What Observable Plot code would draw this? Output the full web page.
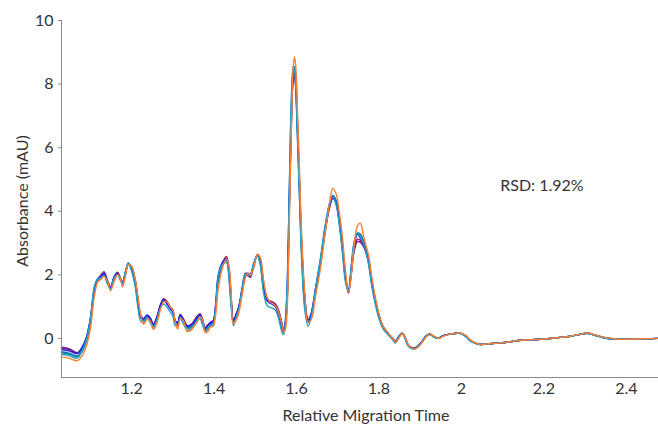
<!DOCTYPE html>
<html>
<head>
<meta charset="utf-8">
<script src="https://cdn.jsdelivr.net/npm/d3@7"></script>
<script src="https://cdn.jsdelivr.net/npm/@observablehq/plot@0.6"></script>
<style>
  html, body { margin: 0; padding: 0; background: #fff; }
  #chart { width: 658px; height: 424px; }
</style>
</head>
<body>
<div id="chart"></div>
<script>
// Relative migration time grid shared by all replicate runs
const time = [
  1.030,1.050,1.068,1.080,1.090,1.100,1.110,1.118,1.125,1.133,
  1.141,1.149,1.158,1.166,1.172,1.178,1.185,1.192,1.200,1.209,
  1.215,1.222,1.229,1.238,1.245,1.253,1.262,1.270,1.278,1.286,
  1.294,1.300,1.306,1.312,1.318,1.326,1.335,1.343,1.350,1.358,
  1.366,1.372,1.379,1.385,1.391,1.398,1.404,1.410,1.420,1.430,
  1.436,1.441,1.447,1.453,1.460,1.468,1.476,1.482,1.488,1.496,
  1.505,1.512,1.520,1.528,1.535,1.542,1.549,1.556,1.566,1.569,
  1.574,1.578,1.583,1.588,1.592,1.595,1.598,1.602,1.607,1.612,
  1.620,1.628,1.636,1.646,1.658,1.670,1.680,1.688,1.696,1.704,
  1.712,1.719,1.726,1.733,1.740,1.748,1.755,1.762,1.768,1.775,
  1.783,1.791,1.800,1.810,1.823,1.833,1.840,1.848,1.857,1.864,
  1.871,1.880,1.888,1.897,1.905,1.915,1.924,1.933,1.944,1.955,
  1.966,1.980,1.997,2.010,2.021,2.034,2.046,2.065,2.087,2.110,
  2.126,2.145,2.167,2.200,2.230,2.260,2.285,2.305,2.325,2.344,
  2.365,2.385,2.420,2.450,2.478
];

// Absorbance (mAU) of each replicate run
const runSteelBlue = [
  -0.42,-0.47,-0.55,-0.35,-0.05,0.55,1.55,1.85,1.92,2.02,
  1.80,1.57,1.90,2.04,1.90,1.72,2.05,2.35,2.20,1.75,
  1.20,0.66,0.58,0.70,0.60,0.40,0.65,1.00,1.20,1.10,
  0.95,0.85,0.52,0.45,0.72,0.55,0.35,0.38,0.45,0.60,
  0.72,0.55,0.28,0.38,0.45,0.50,1.00,1.86,2.30,2.48,
  2.10,1.30,0.55,0.70,0.95,1.50,2.00,2.05,2.02,2.30,
  2.62,2.45,1.65,1.22,1.12,1.08,1.00,0.80,0.30,0.18,
  0.60,1.60,4.60,7.30,8.45,8.55,8.20,6.80,4.90,3.00,
  1.20,0.50,0.75,1.50,2.40,3.50,4.20,4.48,4.30,3.70,
  2.80,1.90,1.50,2.20,2.95,3.30,3.20,3.05,2.82,2.45,
  1.75,1.20,0.70,0.35,0.12,-0.02,-0.10,0.05,0.16,0.00,
  -0.22,-0.30,-0.31,-0.22,-0.10,0.08,0.13,0.05,0.00,0.08,
  0.12,0.15,0.16,0.08,-0.06,-0.15,-0.19,-0.17,-0.15,-0.12,
  -0.09,-0.06,-0.04,-0.02,0.02,0.06,0.12,0.16,0.10,0.03,
  -0.01,-0.03,-0.02,-0.01,0.00
];
const runOrange = [
  -0.58,-0.63,-0.70,-0.55,-0.25,0.30,1.35,1.78,1.85,1.95,
  1.82,1.50,1.80,2.00,1.92,1.62,1.95,2.32,2.28,1.85,
  1.35,0.75,0.45,0.60,0.55,0.28,0.50,0.90,1.15,1.15,
  0.98,0.90,0.50,0.30,0.62,0.55,0.22,0.25,0.35,0.50,
  0.68,0.60,0.18,0.22,0.35,0.38,0.75,1.55,2.20,2.50,
  2.30,1.55,0.45,0.55,0.80,1.35,1.90,2.05,2.00,2.20,
  2.65,2.55,1.85,1.30,1.15,1.10,1.02,0.85,0.35,0.18,
  0.35,1.10,3.90,6.90,8.55,8.85,8.60,7.30,5.40,3.40,
  1.45,0.50,0.60,1.30,2.20,3.35,4.25,4.72,4.55,3.95,
  3.10,2.10,1.45,2.00,2.95,3.55,3.62,3.25,2.95,2.60,
  1.90,1.30,0.78,0.38,0.15,0.00,-0.12,0.00,0.16,0.04,
  -0.20,-0.30,-0.33,-0.25,-0.12,0.06,0.14,0.07,0.00,0.06,
  0.12,0.15,0.17,0.10,-0.04,-0.14,-0.19,-0.17,-0.15,-0.12,
  -0.09,-0.06,-0.04,-0.02,0.02,0.06,0.12,0.17,0.11,0.04,
  0.00,-0.03,-0.02,-0.01,0.00
];
const runCyan = [
  -0.50,-0.55,-0.62,-0.40,-0.05,0.62,1.65,1.88,1.90,1.98,
  1.72,1.55,1.92,2.00,1.85,1.72,2.10,2.38,2.12,1.60,
  1.00,0.55,0.50,0.62,0.50,0.32,0.62,0.95,1.08,0.98,
  0.82,0.70,0.40,0.40,0.62,0.45,0.25,0.30,0.38,0.52,
  0.62,0.42,0.20,0.30,0.38,0.45,1.05,1.95,2.32,2.38,
  1.90,1.05,0.40,0.65,0.92,1.55,2.02,2.00,1.98,2.35,
  2.60,2.30,1.45,1.05,0.98,0.95,0.88,0.65,0.15,0.12,
  0.70,1.90,5.00,7.80,8.55,8.45,7.90,6.40,4.50,2.60,
  0.90,0.38,0.70,1.55,2.50,3.60,4.25,4.45,4.20,3.55,
  2.60,1.75,1.48,2.30,3.05,3.32,3.20,3.00,2.75,2.30,
  1.60,1.08,0.62,0.30,0.10,-0.04,-0.15,0.05,0.15,-0.03,
  -0.25,-0.33,-0.32,-0.22,-0.10,0.09,0.12,0.04,0.00,0.08,
  0.12,0.15,0.15,0.06,-0.08,-0.16,-0.19,-0.17,-0.15,-0.12,
  -0.09,-0.06,-0.04,-0.02,0.02,0.06,0.12,0.15,0.09,0.02,
  -0.02,-0.03,-0.02,-0.01,0.00
];
const runTeal = [
  -0.45,-0.50,-0.58,-0.42,-0.12,0.45,1.45,1.82,1.90,2.00,
  1.82,1.55,1.85,2.05,1.93,1.70,2.00,2.35,2.25,1.80,
  1.28,0.70,0.55,0.68,0.60,0.38,0.60,0.98,1.18,1.12,
  0.96,0.86,0.52,0.40,0.70,0.56,0.32,0.35,0.42,0.58,
  0.72,0.58,0.25,0.32,0.42,0.47,0.90,1.75,2.28,2.48,
  2.20,1.42,0.52,0.65,0.90,1.45,1.95,2.05,2.02,2.25,
  2.62,2.50,1.75,1.25,1.12,1.08,1.00,0.82,0.32,0.18,
  0.50,1.40,4.30,7.10,8.35,8.55,8.35,7.00,5.10,3.20,
  1.30,0.52,0.70,1.42,2.32,3.45,4.20,4.50,4.35,3.80,
  2.92,1.98,1.50,2.12,2.92,3.32,3.28,3.10,2.86,2.52,
  1.82,1.25,0.74,0.37,0.14,0.00,-0.11,0.03,0.16,0.02,
  -0.21,-0.30,-0.32,-0.23,-0.11,0.07,0.13,0.06,0.00,0.07,
  0.12,0.15,0.16,0.09,-0.05,-0.15,-0.19,-0.17,-0.15,-0.12,
  -0.09,-0.06,-0.04,-0.02,0.02,0.06,0.12,0.16,0.10,0.03,
  -0.01,-0.03,-0.02,-0.01,0.00
];
const runBlue = [
  -0.35,-0.40,-0.48,-0.28,0.02,0.62,1.62,1.88,1.95,2.05,
  1.78,1.60,1.95,2.05,1.88,1.75,2.10,2.36,2.15,1.70,
  1.12,0.66,0.62,0.74,0.62,0.45,0.70,1.05,1.22,1.08,
  0.92,0.82,0.55,0.50,0.74,0.56,0.38,0.42,0.50,0.65,
  0.74,0.52,0.32,0.42,0.48,0.55,1.10,1.98,2.38,2.50,
  2.00,1.20,0.58,0.75,1.00,1.58,2.05,2.02,2.00,2.35,
  2.62,2.40,1.55,1.20,1.12,1.08,1.00,0.78,0.25,0.18,
  0.75,1.90,4.90,7.50,8.30,8.35,7.95,6.50,4.60,2.80,
  1.05,0.50,0.80,1.58,2.48,3.55,4.20,4.45,4.25,3.60,
  2.70,1.85,1.52,2.28,3.00,3.28,3.15,3.00,2.78,2.40,
  1.68,1.15,0.68,0.34,0.12,-0.02,-0.11,0.06,0.16,-0.01,
  -0.23,-0.30,-0.30,-0.21,-0.09,0.09,0.13,0.05,0.00,0.09,
  0.12,0.15,0.16,0.07,-0.07,-0.15,-0.19,-0.17,-0.15,-0.12,
  -0.09,-0.06,-0.04,-0.02,0.02,0.06,0.12,0.16,0.10,0.03,
  -0.01,-0.03,-0.02,-0.01,0.00
];
const runPurple = [
  -0.28,-0.33,-0.45,-0.28,0.00,0.58,1.55,1.85,1.95,2.05,
  1.82,1.62,1.95,2.06,1.92,1.78,2.06,2.33,2.22,1.80,
  1.25,0.72,0.62,0.72,0.65,0.45,0.70,1.05,1.24,1.14,
  0.98,0.88,0.55,0.50,0.75,0.60,0.40,0.42,0.50,0.66,
  0.76,0.58,0.34,0.42,0.50,0.55,1.00,1.85,2.35,2.52,
  2.15,1.35,0.55,0.72,0.98,1.50,1.95,1.98,1.92,2.28,
  2.62,2.45,1.72,1.28,1.18,1.15,1.08,0.90,0.40,0.20,
  0.55,1.50,4.40,7.00,8.10,8.25,7.95,6.70,4.95,3.10,
  1.30,0.60,0.78,1.50,2.35,3.40,4.10,4.40,4.25,3.70,
  2.85,1.95,1.42,2.05,2.75,3.05,3.02,2.90,2.72,2.40,
  1.75,1.22,0.72,0.38,0.15,0.01,-0.09,0.06,0.16,0.01,
  -0.21,-0.29,-0.30,-0.21,-0.09,0.08,0.13,0.06,0.01,0.08,
  0.12,0.15,0.16,0.08,-0.06,-0.15,-0.19,-0.17,-0.15,-0.12,
  -0.09,-0.06,-0.04,-0.02,0.02,0.06,0.12,0.16,0.10,0.03,
  -0.01,-0.03,-0.02,-0.01,0.00
];
const runMaroon = [
  -0.30,-0.36,-0.47,-0.30,-0.02,0.55,1.52,1.86,1.98,2.10,
  1.85,1.60,1.92,2.08,1.93,1.76,2.04,2.33,2.24,1.82,
  1.26,0.72,0.60,0.72,0.64,0.44,0.68,1.04,1.25,1.16,
  0.98,0.88,0.54,0.48,0.74,0.60,0.40,0.42,0.52,0.68,
  0.78,0.60,0.34,0.42,0.50,0.55,0.98,1.82,2.36,2.58,
  2.20,1.38,0.56,0.72,0.98,1.50,1.96,2.00,1.95,2.28,
  2.64,2.48,1.74,1.28,1.16,1.12,1.05,0.88,0.38,0.20,
  0.52,1.45,4.35,7.05,8.20,8.35,8.05,6.75,4.95,3.10,
  1.30,0.58,0.76,1.48,2.35,3.42,4.15,4.42,4.28,3.72,
  2.85,1.95,1.45,2.10,2.82,3.12,3.08,2.95,2.75,2.42,
  1.75,1.22,0.72,0.37,0.14,0.00,-0.10,0.05,0.16,0.01,
  -0.21,-0.29,-0.31,-0.22,-0.10,0.08,0.13,0.05,0.00,0.08,
  0.12,0.15,0.16,0.08,-0.06,-0.15,-0.19,-0.17,-0.15,-0.12,
  -0.09,-0.06,-0.04,-0.02,0.02,0.06,0.12,0.16,0.10,0.03,
  -0.01,-0.03,-0.02,-0.01,0.00
];

// Drawing order (first drawn = bottom) and colours of the runs
const runNames  = ["maroon", "purple", "teal", "steelblue", "blue", "cyan", "orange"];
const runValues = [runMaroon, runPurple, runTeal, runSteelBlue, runBlue, runCyan, runOrange];
const runColors = ["#8e1c3c", "#7a1b8e", "#14888e", "#1f77b4", "#2222ee", "#1ba3cc", "#ff7f2e"];

const xTicks = [1.2, 1.4, 1.6, 1.8, 2.0, 2.2, 2.4];
const yTicks = [0, 2, 4, 6, 8, 10];
const xDomain = [1.03, 2.478];
const yDomain = [-1.23, 10];
const xLabel = "Relative Migration Time";
const yLabel = "Absorbance (mAU)";
const annotation = {x: 2.094, y: 4.8, text: "RSD: 1.92%"};

const rows = [];
runNames.forEach((name, k) => {
  time.forEach((t, i) => rows.push({run: name, t, v: runValues[k][i]}));
});

const lineMarks = runNames.map((name, k) =>
  Plot.line(rows.filter(d => d.run === name), {
    x: "t", y: "v", stroke: runColors[k], strokeWidth: 1.4, curve: "catmull-rom"
  })
);

const chart = Plot.plot({
  width: 658,
  height: 424,
  marginTop: 20,
  marginRight: 0,
  marginBottom: 47,
  marginLeft: 61,
  x: {domain: xDomain},
  y: {domain: yDomain},
  style: {fontFamily: "Lato, 'Open Sans', sans-serif", fontSize: "16px", color: "#333", background: "#fff"},
  marks: [
    ...lineMarks,
    Plot.ruleX([xDomain[0]], {stroke: "#8a8a8a", strokeWidth: 1}),
    Plot.ruleY([yDomain[0]], {stroke: "#8a8a8a", strokeWidth: 1}),
    Plot.axisY({ticks: yTicks, tickSize: 3, tickPadding: 5, stroke: "#8a8a8a", label: null, fontSize: 16, fill: "#333"}),
    Plot.axisX({ticks: xTicks, tickSize: 0, tickPadding: 5, label: null, fontSize: 16, fill: "#333",
      tickFormat: d => String(+d.toFixed(1))}),
    Plot.text([xLabel], {frameAnchor: "bottom", textAnchor: "middle", dy: 43, dx: 6, text: d => d, fontSize: 16, fill: "#333"}),
    Plot.text([yLabel], {frameAnchor: "left", textAnchor: "middle", dx: -39, dy: 2, rotate: -90, text: d => d, fontSize: 16, fill: "#333"}),
    Plot.text([annotation], {x: "x", y: "y", text: "text", textAnchor: "start", fontSize: 16, fill: "#333"})
  ]
});
document.getElementById("chart").appendChild(chart);
</script>
</body>
</html>
